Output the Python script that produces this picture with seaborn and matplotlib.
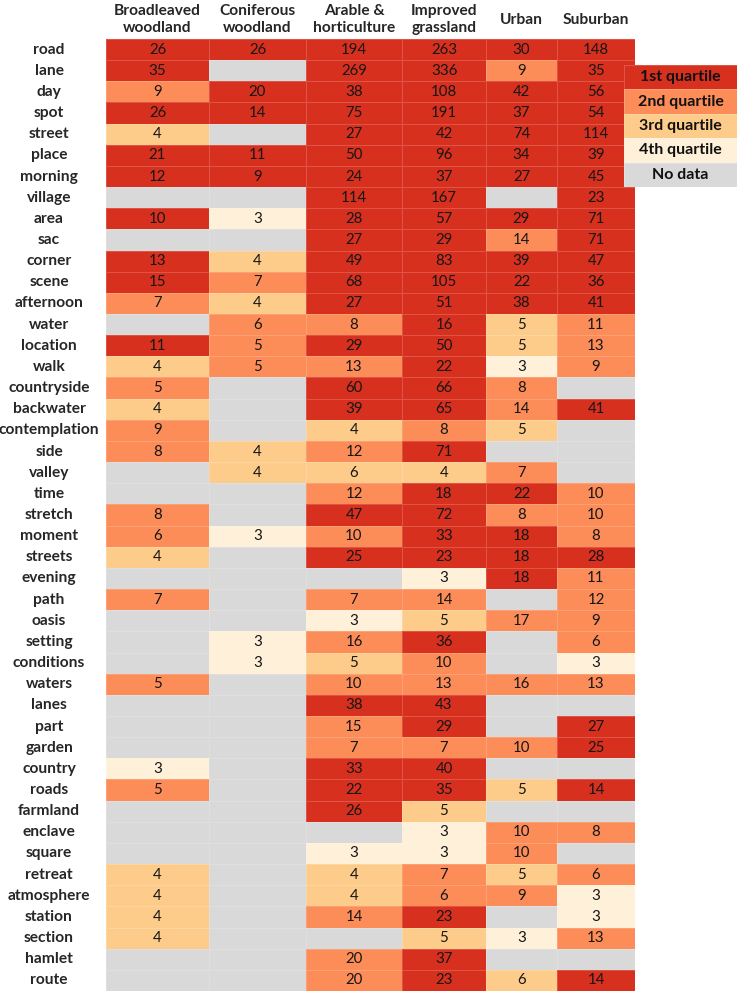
import numpy as np
import pandas as pd
import matplotlib
matplotlib.use("Agg")
import matplotlib.pyplot as plt
from matplotlib.colors import ListedColormap
import seaborn as sns

N = np.nan

words = ["road", "lane", "day", "spot", "street", "place", "morning", "village",
         "area", "sac", "corner", "scene", "afternoon", "water", "location", "walk",
         "countryside", "backwater", "contemplation", "side", "valley", "time",
         "stretch", "moment", "streets", "evening", "path", "oasis", "setting",
         "conditions", "waters", "lanes", "part", "garden", "country", "roads",
         "farmland", "enclave", "square", "retreat", "atmosphere", "station",
         "section", "hamlet", "route"]

habitats = ["Broadleaved\nwoodland", "Coniferous\nwoodland", "Arable &\nhorticulture",
            "Improved\ngrassland", "Urban", "Suburban"]

broadleaved = [26, 35, 9, 26, 4, 21, 12, N, 10, N, 13, 15, 7, N, 11, 4, 5, 4, 9, 8,
               N, N, 8, 6, 4, N, 7, N, N, N, 5, N, N, N, 3, 5, N, N, N, 4, 4, 4, 4, N, N]
coniferous = [26, N, 20, 14, N, 11, 9, N, 3, N, 4, 7, 4, 6, 5, 5, N, N, N, 4,
              4, N, N, 3, N, N, N, N, 3, 3, N, N, N, N, N, N, N, N, N, N, N, N, N, N, N]
arable = [194, 269, 38, 75, 27, 50, 24, 114, 28, 27, 49, 68, 27, 8, 29, 13, 60, 39, 4, 12,
          6, 12, 47, 10, 25, N, 7, 3, 16, 5, 10, 38, 15, 7, 33, 22, 26, N, 3, 4, 4, 14, N, 20, 20]
improved = [263, 336, 108, 191, 42, 96, 37, 167, 57, 29, 83, 105, 51, 16, 50, 22, 66, 65, 8, 71,
            4, 18, 72, 33, 23, 3, 14, 5, 36, 10, 13, 43, 29, 7, 40, 35, 5, 3, 3, 7, 6, 23, 5, 37, 23]
urban = [30, 9, 42, 37, 74, 34, 27, N, 29, 14, 39, 22, 38, 5, 5, 3, 8, 14, 5, N,
         7, 22, 8, 18, 18, 18, N, 17, N, N, 16, N, N, 10, N, 5, N, 10, 10, 5, 9, N, 3, N, 6]
suburban = [148, 35, 56, 54, 114, 39, 45, 23, 71, 71, 47, 36, 41, 11, 13, 9, N, 41, N, N,
            N, 10, 10, 8, 28, 11, 12, 9, 6, 3, 13, N, 27, 25, N, 14, N, 8, N, 6, 3, 3, 13, N, 14]

# lowest count that falls in the 1st / 2nd / 3rd quartile, per habitat
q1_min = [10, 9, 22, 16, 18, 14]
q2_min = [5, 5, 7, 6, 7, 6]
q3_min = [4, 4, 4, 4, 5, 4]

legend_labels = ["1st quartile", "2nd quartile", "3rd quartile", "4th quartile", "No data"]
colors = ["#d7301f", "#fc8d59", "#fdcc8a", "#fef0d9", "#d9d9d9"]

counts = pd.DataFrame(dict(zip(habitats, [broadleaved, coniferous, arable, improved, urban, suburban])),
                      index=words)


def quartile_codes(v, i):
    return np.select([np.isnan(v), v >= q1_min[i], v >= q2_min[i], v >= q3_min[i]],
                     [4, 0, 1, 2], default=3)


sns.set_style("white")
plt.rcParams["font.family"] = ["Lato", "DejaVu Sans"]
cmap = ListedColormap(colors)
grid_line = (1, 1, 1, 0.18)

W, H = 737, 992
col_edges = [106, 209, 306, 402, 486, 557, 635]
fig = plt.figure(figsize=(W / 100, H / 100), dpi=100)
gs = fig.add_gridspec(1, 6, width_ratios=np.diff(col_edges), left=col_edges[0] / W,
                      right=col_edges[-1] / W, top=1 - 39 / H, bottom=1 - 991 / H, wspace=0)

for i, name in enumerate(habitats):
    ax = fig.add_subplot(gs[0, i])
    vals = counts[name].to_numpy(dtype=float)
    codes = quartile_codes(vals, i).reshape(-1, 1)
    labels = np.array(["" if np.isnan(v) else str(int(v)) for v in vals]).reshape(-1, 1)
    sns.heatmap(codes, ax=ax, cmap=cmap, vmin=-0.5, vmax=4.5, cbar=False,
                annot=labels, fmt="", annot_kws={"fontsize": 10.8, "color": "#161616"},
                linewidths=0.5, linecolor=grid_line,
                xticklabels=False, yticklabels=words if i == 0 else False)
    ax.set_xlabel("")
    ax.set_ylabel("")
    if i == 0:
        ax.set_yticklabels(words, rotation=0, ha="center", fontweight="bold", fontsize=11.2)
        ax.tick_params(axis="y", length=0, pad=(106 - 49) * 0.72)
    pos = ax.get_position()
    fig.text((pos.x0 + pos.x1) / 2, 1 - 19.5 / H, name, ha="center", va="center",
             fontweight="bold", fontsize=11.2, linespacing=1.32)

# legend drawn as a small heatmap
lax = fig.add_axes([624 / W, 1 - 187 / H, (W - 624) / W, (187 - 65) / H])
sns.heatmap(np.arange(5).reshape(-1, 1), ax=lax, cmap=cmap, vmin=-0.5, vmax=4.5, cbar=False,
            annot=np.array(legend_labels).reshape(-1, 1), fmt="",
            annot_kws={"fontsize": 11.5, "fontweight": "bold", "color": "#111111"},
            linewidths=0.5, linecolor=grid_line, xticklabels=False, yticklabels=False)

fig.savefig("out.png", dpi=100)
